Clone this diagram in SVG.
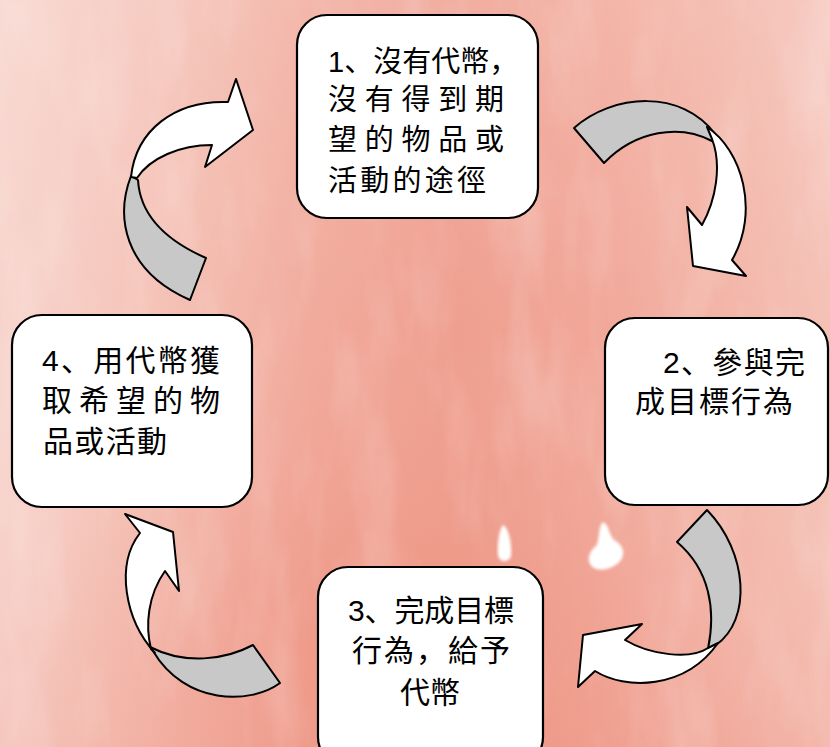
<svg xmlns="http://www.w3.org/2000/svg" width="830" height="747" viewBox="0 0 830 747">
<defs>
<linearGradient id="bgH" x1="0" y1="0" x2="1" y2="0">
<stop offset="0" stop-color="#f7d3cb"/>
<stop offset="0.18" stop-color="#f5c3b8"/>
<stop offset="0.38" stop-color="#f1aa9b"/>
<stop offset="0.55" stop-color="#ef9f8f"/>
<stop offset="0.72" stop-color="#f1a798"/>
<stop offset="0.88" stop-color="#f3b5a8"/>
<stop offset="1" stop-color="#f5c1b6"/>
</linearGradient>
<linearGradient id="bgV" x1="0" y1="0" x2="0" y2="1">
<stop offset="0" stop-color="#ffffff" stop-opacity="0.15"/>
<stop offset="0.45" stop-color="#ffffff" stop-opacity="0"/>
<stop offset="1" stop-color="#e9806e" stop-opacity="0.18"/>
</linearGradient>
<radialGradient id="deep" cx="0.42" cy="0.85" r="0.4">
<stop offset="0" stop-color="#ec8672" stop-opacity="0.45"/>
<stop offset="1" stop-color="#ec8672" stop-opacity="0"/>
</radialGradient>
<filter id="tex" x="0" y="0" width="1" height="1">
<feTurbulence type="fractalNoise" baseFrequency="0.02 0.006" numOctaves="4" seed="7"/>
<feColorMatrix values="0 0 0 0 1  0 0 0 0 1  0 0 0 0 1  1.3 0 0 0 -0.6"/>
</filter>
<filter id="soft"><feGaussianBlur stdDeviation="1.5"/></filter>
<style>
.box{fill:#ffffff;stroke:#000000;stroke-width:2.2}
.back{fill:#c8c8c8;stroke:#000000;stroke-width:2;stroke-linejoin:round}
.front{fill:#ffffff;stroke:#000000;stroke-width:2;stroke-linejoin:round}
.t{font-family:"Liberation Sans","Noto Sans CJK SC","Noto Sans CJK TC",sans-serif;font-size:30px;fill:#000000}
.t1{font-size:29px}
</style>
</defs>
<g id="background">
<rect x="0" y="0" width="830" height="747" fill="url(#bgH)"/>
<rect x="0" y="0" width="830" height="747" fill="url(#bgV)"/>
<rect x="0" y="0" width="830" height="747" fill="url(#deep)"/>
<rect x="0" y="0" width="830" height="747" filter="url(#tex)" opacity="0.35"/>
<path d="M503,525 C509,528 512,545 511,556 C509,563 499,563 498,555 C497,545 499,530 503,525 Z" fill="#ffffff" filter="url(#soft)"/>
<path d="M603,522 C609,524 609,535 614,540 C622,544 626,552 621,560 C615,568 602,572 594,568 C586,563 588,552 596,546 C600,540 598,526 603,522 Z" fill="#ffffff" filter="url(#soft)"/>
</g>
<g id="connectors">
<g id="arrow-1-2">
<path class="back" d="M574,128 C612,94 682,88 716,135 L712,141 C680,124 636,130 604,163 Z"/>
<path class="front" d="M707,127 C742,150 760,212 732,260 L746,276 L693,266 L687,207 L702,225 C716,200 722,165 712,139 Z"/>
</g>
<g id="arrow-2-3">
<path class="back" d="M677,542 L707,510 C748,552 752,620 716,645 L708,649 C716,610 710,570 677,542 Z"/>
<path class="front" d="M708,648 C690,660 650,655 625,640 L642,624 L583,635 L578,687 L595,671 C625,690 685,690 718,643 Z"/>
</g>
<g id="arrow-3-4">
<path class="back" d="M253,645 L280,683 C250,705 185,705 153,651 L150,647 C185,665 225,660 253,645 Z"/>
<path class="front" d="M155,653 C125,620 115,565 140,533 L125,514 L173,532 L179,591 L165,571 C148,595 145,625 151,649 Z"/>
</g>
<g id="arrow-4-1">
<path class="back" d="M131,176 C116,215 122,270 190,300 L206,258 C165,240 140,215 138,180 Z"/>
<path class="front" d="M131,177 C136,130 175,100 228,102 L236,79 L253,130 L205,167 L212,145 C180,145 150,158 137,178 Z"/>
</g>
</g>
<g id="node-1">
<rect class="box" x="297" y="15" width="241" height="203" rx="30"/>
<text class="t t1" x="328" y="72">1、沒有代幣，</text>
<text class="t t1" x="328" y="110" textLength="176" lengthAdjust="spacing">沒有得到期</text>
<text class="t t1" x="328" y="150" textLength="176" lengthAdjust="spacing">望的物品或</text>
<text class="t t1" x="328" y="191" textLength="158" lengthAdjust="spacing">活動的途徑</text>
</g>
<g id="node-2">
<rect class="box" x="605" y="318" width="223" height="187" rx="30"/>
<text class="t" x="663" y="373" textLength="142" lengthAdjust="spacing">2、參與完</text>
<text class="t" x="635" y="412" textLength="158" lengthAdjust="spacing">成目標行為</text>
</g>
<g id="node-3">
<rect class="box" x="318" y="567" width="225" height="200" rx="30"/>
<text class="t" x="348" y="621" textLength="166" lengthAdjust="spacing">3、完成目標</text>
<text class="t" x="352" y="661" textLength="158" lengthAdjust="spacing">行為，給予</text>
<text class="t" x="400" y="703">代幣</text>
</g>
<g id="node-4">
<rect class="box" x="12" y="315" width="240" height="192" rx="30"/>
<text class="t" x="42" y="371" textLength="178" lengthAdjust="spacing">4、用代幣獲</text>
<text class="t" x="42" y="411" textLength="178" lengthAdjust="spacing">取希望的物</text>
<text class="t" x="43" y="452" textLength="124" lengthAdjust="spacing">品或活動</text>
</g>
</svg>
